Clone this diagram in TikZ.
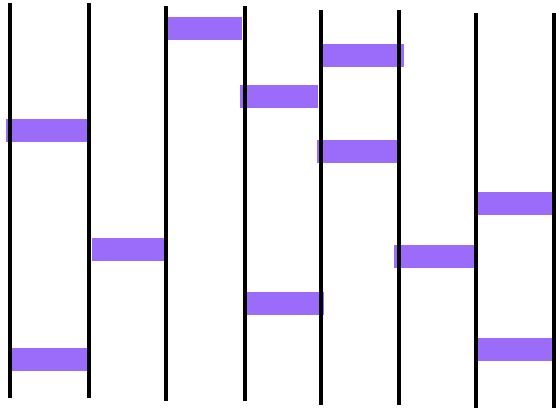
\documentclass[tikz,border=0pt]{standalone}
\usepackage{xcolor}
\definecolor{rungpurple}{HTML}{9B6BFA}
\usepackage{tikz}

\begin{document}
\begin{tikzpicture}[
        x=1pt, y=-1pt,
        rail/.style={line width=4pt, black},
        rung/.style={fill=rungpurple, draw=none, inner sep=0pt, minimum height=23pt},
    ]
    \useasboundingbox (0,0) rectangle (556,408);
    \clip (0,0) rectangle (556,408);

    % === Rungs (left edge / right edge / centre height) ===
    \foreach \name/\xa/\xb/\y in {
            ra/6/87/130, rb/168/242/28.5, rc/240/318/96.5,
            rd/323/404/55, re/317/397/151, rf/478/556/203,
            rg/92/168/249.5, rh/12/87/359.5, ri/247/324/303.5,
            rj/394/476/256, rk/478/556/349.5}
        \node[rung, minimum width=\xb pt-\xa pt] (\name) at ({(\xa+\xb)/2},\y) {};

    % === Rails ===
    \foreach \x/\t/\b [count=\i] in {
            10/3/398, 89/3/398, 166/6/401, 244.5/6/401,
            320.5/10/405, 399/10/405, 476/13/408, 554/13/408} {
        \coordinate (top\i) at (\x,\t);
        \coordinate (bot\i) at (\x,\b);
        \draw[rail] (top\i) -- (bot\i);
    }

\end{tikzpicture}
\end{document}
